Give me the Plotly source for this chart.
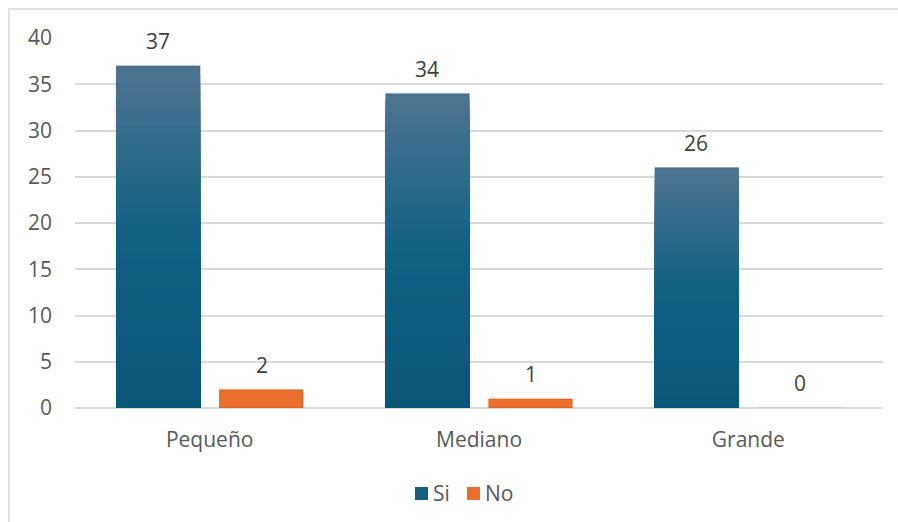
import plotly.graph_objects as go

# Data
categories = ["Pequeño", "Mediano", "Grande"]
si_values = [37, 34, 26]
no_values = [2, 1, 0]
series_names = ["Si", "No"]
y_ticks = [0, 5, 10, 15, 20, 25, 30, 35, 40]

FONT = "Open Sans"
TEXT = "#595959"
GRID = "#d9d9d9"

# Vertical gradient for the "Si" bars, built from overlapping bars
SI_TOP = (76, 116, 145)
SI_MID = (16, 96, 130)
SI_BOTTOM = (10, 86, 121)
NO_COLOR = "#ec6e2f"
SI_SWATCH = "#15607f"
N_STEPS = 40

# plot area in pixels (used for placing the legend in paper units)
PLOT_L, PLOT_R, PLOT_T, PLOT_B = 75, 883, 38, 408
PW, PH = PLOT_R - PLOT_L, PLOT_B - PLOT_T


def px_x(x):
    return (x - PLOT_L) / PW


def px_y(y):
    return (PLOT_B - y) / PH


def mix(a, b, t):
    t = max(0.0, min(1.0, t))
    return "rgb({},{},{})".format(*[round(a[i] + (b[i] - a[i]) * t) for i in range(3)])


def si_color(frac):
    # frac = relative height within the bar (0 bottom, 1 top)
    if frac >= 0.5:
        return mix(SI_MID, SI_TOP, (frac - 0.5) / 0.5)
    return mix(SI_BOTTOM, SI_MID, frac / 0.5)


fig = go.Figure()

# Tallest (top colour) first, then progressively shorter layers on top
for k in range(N_STEPS):
    frac = (N_STEPS - k) / N_STEPS
    fig.add_trace(go.Bar(
        x=categories,
        y=[v * frac for v in si_values],
        name=series_names[0],
        offsetgroup="si",
        showlegend=False,
        marker=dict(color=si_color(frac),
                    line=dict(width=2 if k == 0 else 0, color="rgba(0,0,0,0.07)")),
        hoverinfo="skip",
    ))

fig.add_trace(go.Bar(
    x=categories,
    y=no_values,
    name=series_names[1],
    offsetgroup="no",
    showlegend=False,
    marker=dict(color=NO_COLOR, line=dict(width=2, color="rgba(0,0,0,0.07)")),
))

# Value labels above each bar
annotations = []
for cat, v in zip(categories, si_values):
    annotations.append(dict(x=cat, y=v, text=str(v), showarrow=False,
                            xshift=-52, yshift=25, yanchor="middle",
                            font=dict(family=FONT, size=21, color="#404040")))
for cat, v in zip(categories, no_values):
    annotations.append(dict(x=cat, y=v, text=str(v), showarrow=False,
                            xshift=52, yshift=25, yanchor="middle",
                            font=dict(family=FONT, size=21, color="#404040")))

# Legend: swatch + label for each series
legend_items = [(series_names[0], SI_SWATCH, 415), (series_names[1], NO_COLOR, 467)]
shapes = [dict(type="rect", xref="paper", yref="paper",
               x0=px_x(9), x1=1.2, y0=-0.5, y1=px_y(9),
               line=dict(color=GRID, width=1.5), fillcolor="rgba(0,0,0,0)",
               layer="below")]
for name, color, x_left in legend_items:
    shapes.append(dict(type="rect", xref="paper", yref="paper",
                       x0=px_x(x_left), x1=px_x(x_left + 13),
                       y0=px_y(500), y1=px_y(487),
                       line=dict(width=0), fillcolor=color))
    annotations.append(dict(xref="paper", yref="paper", x=px_x(x_left + 16), y=px_y(493),
                            text=name, showarrow=False, xanchor="left", yanchor="middle",
                            font=dict(family=FONT, size=21, color=TEXT)))

fig.update_layout(
    width=898,
    height=522,
    margin=dict(l=PLOT_L, r=898 - PLOT_R, t=PLOT_T, b=522 - PLOT_B),
    paper_bgcolor="white",
    plot_bgcolor="white",
    barmode="group",
    bargap=0.235,
    bargroupgap=0.184,
    font=dict(family=FONT, size=21, color=TEXT),
    showlegend=False,
    annotations=annotations,
    shapes=shapes,
)

fig.update_xaxes(
    type="category",
    showgrid=False,
    showline=False,
    zeroline=False,
    ticks="",
    ticklabelstandoff=17,
    tickfont=dict(family=FONT, size=21, color=TEXT),
)

fig.update_yaxes(
    range=[0, 40],
    tickvals=y_ticks,
    showgrid=True,
    gridcolor=GRID,
    gridwidth=1.5,
    zeroline=True,
    zerolinecolor=GRID,
    zerolinewidth=1.5,
    showline=False,
    ticks="",
    ticklabelstandoff=22,
    tickfont=dict(family=FONT, size=21, color=TEXT),
)

fig.write_html("out.html")
